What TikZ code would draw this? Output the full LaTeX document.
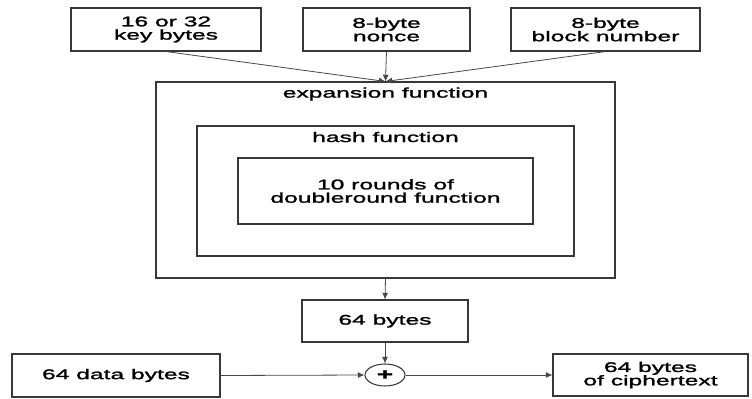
\documentclass[tikz,border=0pt]{standalone}
\usepackage{fontspec}
\setmainfont{Liberation Sans}[FakeStretch=1.76, FakeBold=1.6]
\usetikzlibrary{arrows.meta,shapes.geometric}

\tikzset{
  ink/.style={draw=black!78, line width=0.8pt},
  block/.style={ink, rectangle, inner sep=0pt, align=center, font=\fontsize{10.5}{10}\selectfont},
  tag/.style={inner sep=0pt, align=center, font=\fontsize{10.5}{10}\selectfont},
  flow/.style={draw=black!72, line width=0.6pt, -{Latex[length=5pt,width=4.5pt]}},
}

\begin{document}
\begin{tikzpicture}[x=0.75pt, y=-0.75pt]
  \useasboundingbox (0,0) rectangle (752,399);

  % input blocks
  \node[block, minimum width=142.5pt, minimum height=32.25pt] (key)   at (166,29.5)   {16 or 32\\key bytes};
  \node[block, minimum width=125.25pt, minimum height=32.25pt] (nonce) at (386.5,29.5) {8-byte\\nonce};
  \node[block, minimum width=141.75pt, minimum height=32.25pt] (blk)   at (605.5,29.5) {8-byte\\block number};

  % nested function blocks
  \node[block, minimum width=344.25pt, minimum height=147pt] (exp)  at (385.5,180) {};
  \node[tag] (explbl) at (385.5,94) {expansion function};
  \node[block, minimum width=282.75pt, minimum height=97.5pt] (hash) at (385.5,191) {};
  \node[tag] (hashlbl) at (385.5,137) {hash function};
  \node[block, minimum width=221.25pt, minimum height=49.5pt] (dbl) at (385.5,191) {10 rounds of\\doubleround function};

  % keystream and XOR
  \node[block, minimum width=124.5pt, minimum height=31.5pt] (ks) at (385,321) {64 bytes};
  \node[ink, ellipse, minimum width=30pt, minimum height=16.5pt, inner sep=0pt,
        font=\fontsize{12}{12}\selectfont\bfseries] (xor) at (385,375) {+};
  \node[block, minimum width=156pt, minimum height=32.25pt] (data)   at (116,375.5) {64 data bytes};
  \node[block, minimum width=146.25pt, minimum height=31.5pt] (cipher) at (650.5,375) {64 bytes\\of ciphertext};

  % connectors
  \draw[flow] (key.south) -- (exp.north);
  \draw[flow] (nonce.south) -- (exp.north);
  \draw[flow] (blk.south) -- (exp.north);
  \draw[flow] (exp.south) -- (ks.north);
  \draw[flow] (ks.south) -- (xor.north);
  \draw[flow] (data.east) -- (xor.west);
  \draw[flow] (xor.east) -- (cipher.west);
\end{tikzpicture}
\end{document}
